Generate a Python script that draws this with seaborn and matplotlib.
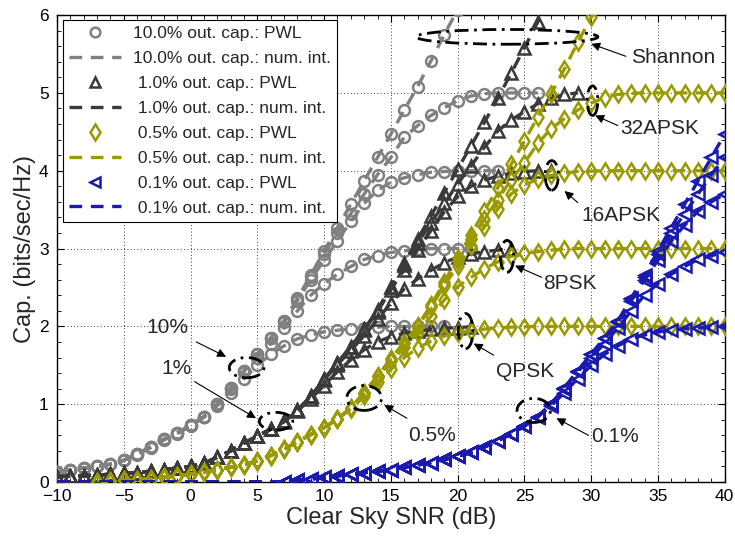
import numpy as np
import pandas as pd
import matplotlib
matplotlib.use("Agg")
import matplotlib.pyplot as plt
import seaborn as sns
from matplotlib.lines import Line2D
from matplotlib.patches import Ellipse
from matplotlib.ticker import MultipleLocator

# ---------------- data ----------------
# 10% outage, SNR starts at -10 dB, 1 dB step
start_10 = -10
sh_10 = [0.13, 0.16, 0.18, 0.20, 0.23, 0.28, 0.36, 0.45, 0.55, 0.63, 0.73, 0.84, 1.00, 1.21, 1.43,
         1.64, 1.85, 2.07, 2.36, 2.66, 2.97, 3.27, 3.57, 3.87, 4.17, 4.47, 4.78, 5.08, 5.41, 5.75, 6.07]
qpsk_10 = [0.13, 0.16, 0.18, 0.20, 0.23, 0.28, 0.35, 0.44, 0.54, 0.62, 0.72, 0.83, 0.98, 1.15, 1.33,
           1.50, 1.64, 1.75, 1.84, 1.89, 1.93, 1.95, 1.97, 1.98, 1.99, 2.0, 2.0, 2.0, 2.0, 2.0]
psk8_10 = [0.13, 0.16, 0.18, 0.20, 0.23, 0.28, 0.36, 0.45, 0.55, 0.63, 0.73, 0.84, 1.00, 1.20, 1.42,
           1.60, 1.78, 1.98, 2.20, 2.40, 2.55, 2.67, 2.77, 2.86, 2.91, 2.95, 2.97, 2.99, 3.0, 3.0, 3.0, 3.0]
apsk16_10 = [0.13, 0.16, 0.18, 0.20, 0.23, 0.28, 0.36, 0.45, 0.55, 0.63, 0.73, 0.84, 1.00, 1.21, 1.43,
             1.64, 1.85, 2.05, 2.33, 2.60, 2.85, 3.10, 3.35, 3.58, 3.75, 3.85, 3.91, 3.95, 3.98, 3.99,
             4.0, 4.0, 4.0, 4.0]
apsk32_10 = [0.13, 0.16, 0.18, 0.20, 0.23, 0.28, 0.36, 0.45, 0.55, 0.63, 0.73, 0.84, 1.00, 1.21, 1.43,
             1.64, 1.85, 2.07, 2.35, 2.64, 2.93, 3.20, 3.45, 3.70, 3.95, 4.17, 4.43, 4.58, 4.71, 4.81,
             4.90, 4.96, 4.99, 5.0, 5.0, 5.0, 5.0]

# 1% outage, SNR starts at -10 dB
start_1 = -10
sh_1 = [0.07, 0.075, 0.08, 0.09, 0.10, 0.11, 0.12, 0.14, 0.16, 0.18, 0.20, 0.24, 0.32, 0.40, 0.50,
        0.59, 0.68, 0.78, 0.92, 1.10, 1.32, 1.53, 1.74, 1.96, 2.21, 2.51, 2.81, 3.12, 3.42, 3.72,
        4.02, 4.32, 4.62, 4.93, 5.25, 5.58, 5.91, 6.23]
qpsk_1 = [0.07, 0.075, 0.08, 0.09, 0.10, 0.11, 0.12, 0.14, 0.16, 0.18, 0.20, 0.24, 0.32, 0.40, 0.50,
          0.59, 0.68, 0.775, 0.91, 1.07, 1.24, 1.42, 1.57, 1.70, 1.80, 1.87, 1.91, 1.94, 1.96, 1.975,
          1.985, 1.995]
psk8_1 = [0.07, 0.075, 0.08, 0.09, 0.10, 0.11, 0.12, 0.14, 0.16, 0.18, 0.20, 0.24, 0.32, 0.40, 0.50,
          0.59, 0.68, 0.78, 0.92, 1.10, 1.31, 1.51, 1.69, 1.88, 2.09, 2.30, 2.48, 2.61, 2.72, 2.82,
          2.89, 2.93, 2.96, 2.98, 2.99]
apsk16_1 = [0.07, 0.075, 0.08, 0.09, 0.10, 0.11, 0.12, 0.14, 0.16, 0.18, 0.20, 0.24, 0.32, 0.40, 0.50,
            0.59, 0.68, 0.78, 0.92, 1.10, 1.32, 1.53, 1.74, 1.95, 2.19, 2.47, 2.73, 2.98, 3.23, 3.47,
            3.67, 3.80, 3.88, 3.93, 3.97, 3.99, 4.0, 4.0]
apsk32_1 = [0.07, 0.075, 0.08, 0.09, 0.10, 0.11, 0.12, 0.14, 0.16, 0.18, 0.20, 0.24, 0.32, 0.40, 0.50,
            0.59, 0.68, 0.78, 0.92, 1.10, 1.32, 1.53, 1.74, 1.96, 2.21, 2.50, 2.79, 3.07, 3.33, 3.58,
            3.83, 4.06, 4.30, 4.51, 4.65, 4.76, 4.86, 4.93, 4.98, 5.0]

# 0.5% outage, SNR starts at -7 dB
start_05 = -7
sh_05 = [0.0, 0.01, 0.02, 0.03, 0.04, 0.06, 0.08, 0.10, 0.13, 0.16, 0.19, 0.22, 0.27, 0.34, 0.42,
         0.52, 0.61, 0.70, 0.81, 0.95, 1.15, 1.36, 1.58, 1.79, 2.00, 2.27, 2.57, 2.88, 3.18, 3.48,
         3.78, 4.08, 4.38, 4.69, 4.99, 5.31, 5.65, 5.97, 6.30]
qpsk_05 = [0.0, 0.01, 0.02, 0.03, 0.04, 0.06, 0.08, 0.10, 0.13, 0.16, 0.19, 0.22, 0.27, 0.34, 0.42,
           0.52, 0.61, 0.70, 0.81, 0.94, 1.10, 1.28, 1.45, 1.60, 1.72, 1.81, 1.875, 1.92, 1.945, 1.965,
           1.98, 1.99, 1.995, 2.0, 2.0, 2.0, 2.0, 2.0, 2.0, 2.0, 2.0, 2.0, 2.0, 2.0, 2.0, 2.0, 2.0, 2.0]
psk8_05 = [0.0, 0.01, 0.02, 0.03, 0.04, 0.06, 0.08, 0.10, 0.13, 0.16, 0.19, 0.22, 0.27, 0.34, 0.42,
           0.52, 0.61, 0.70, 0.81, 0.95, 1.14, 1.35, 1.55, 1.73, 1.92, 2.13, 2.34, 2.51, 2.63, 2.74,
           2.83, 2.90, 2.94, 2.96, 2.98, 2.995, 3.0, 3.0, 3.0, 3.0, 3.0, 3.0, 3.0, 3.0, 3.0, 3.0, 3.0, 3.0]
apsk16_05 = [0.0, 0.01, 0.02, 0.03, 0.04, 0.06, 0.08, 0.10, 0.13, 0.16, 0.19, 0.22, 0.27, 0.34, 0.42,
             0.52, 0.61, 0.70, 0.81, 0.95, 1.15, 1.36, 1.58, 1.79, 1.99, 2.25, 2.52, 2.78, 3.03, 3.28,
             3.51, 3.70, 3.82, 3.89, 3.94, 3.97, 3.99, 3.995, 4.0, 4.0, 4.0, 4.0, 4.0, 4.0, 4.0, 4.0, 4.0, 4.0]
apsk32_05 = [0.0, 0.01, 0.02, 0.03, 0.04, 0.06, 0.08, 0.10, 0.13, 0.16, 0.19, 0.22, 0.27, 0.34, 0.42,
             0.52, 0.61, 0.70, 0.81, 0.95, 1.15, 1.36, 1.58, 1.79, 2.00, 2.27, 2.55, 2.84, 3.12, 3.38,
             3.63, 3.88, 4.10, 4.35, 4.54, 4.67, 4.78, 4.87, 4.94, 4.98, 4.995, 5.0, 5.0, 5.0, 5.0, 5.0, 5.0, 5.0]

# 0.1% outage, PWL markers start at 7 dB; num. int. lines start at -10 dB with zero capacity
start_01 = 7
line_start_01 = -10
zero_01 = [0.0, 0.0, 0.0, 0.0, 0.0, 0.0, 0.0, 0.0, 0.0, 0.0, 0.0, 0.0, 0.0, 0.0, 0.0, 0.0, 0.0]
sh_01 = [0.0, 0.02, 0.04, 0.06, 0.08, 0.10, 0.12, 0.14, 0.16, 0.19, 0.22, 0.25, 0.29, 0.33, 0.38,
         0.45, 0.53, 0.62, 0.72, 0.84, 1.00, 1.21, 1.43, 1.64, 1.85, 2.07, 2.36, 2.66, 2.97, 3.27,
         3.57, 3.87, 4.17, 4.47]
qpsk_01 = [0.0, 0.02, 0.04, 0.06, 0.08, 0.10, 0.12, 0.14, 0.16, 0.19, 0.22, 0.25, 0.29, 0.33, 0.38,
           0.45, 0.53, 0.62, 0.72, 0.84, 0.98, 1.15, 1.33, 1.50, 1.64, 1.75, 1.84, 1.89, 1.93, 1.95,
           1.97, 1.98, 1.99, 2.0]
psk8_01 = [0.0, 0.02, 0.04, 0.06, 0.08, 0.10, 0.12, 0.14, 0.16, 0.19, 0.22, 0.25, 0.29, 0.33, 0.38,
           0.45, 0.53, 0.62, 0.72, 0.84, 1.00, 1.20, 1.42, 1.60, 1.78, 1.98, 2.20, 2.40, 2.55, 2.67,
           2.77, 2.86, 2.91, 2.95]
apsk16_01 = [0.0, 0.02, 0.04, 0.06, 0.08, 0.10, 0.12, 0.14, 0.16, 0.19, 0.22, 0.25, 0.29, 0.33, 0.38,
             0.45, 0.53, 0.62, 0.72, 0.84, 1.00, 1.21, 1.43, 1.64, 1.85, 2.05, 2.33, 2.60, 2.85, 3.10,
             3.30, 3.48, 3.60, 3.70]
apsk32_01 = [0.0, 0.02, 0.04, 0.06, 0.08, 0.10, 0.12, 0.14, 0.16, 0.19, 0.22, 0.25, 0.29, 0.33, 0.38,
             0.45, 0.53, 0.62, 0.72, 0.84, 1.00, 1.21, 1.43, 1.64, 1.85, 2.07, 2.35, 2.64, 2.93, 3.20,
             3.45, 3.70, 3.95, 4.17]

outage_labels = ["10.0%", " 1.0%", " 0.5%", " 0.1%"]
colors = ["#808080", "#3a3a3a", "#9a9a00", "#1a1aaf"]
markers = ["o", "^", "d", "<"]
marker_sizes = [7.8, 8.2, 8.5, 8.2]

xticks = [-10, -5, 0, 5, 10, 15, 20, 25, 30, 35, 40]
yticks = [0, 1, 2, 3, 4, 5, 6]

groups = [
    (start_10, start_10, [], [sh_10, qpsk_10, psk8_10, apsk16_10, apsk32_10]),
    (start_1, start_1, [], [sh_1, qpsk_1, psk8_1, apsk16_1, apsk32_1]),
    (start_05, start_05, [], [sh_05, qpsk_05, psk8_05, apsk16_05, apsk32_05]),
    (start_01, line_start_01, zero_01, [sh_01, qpsk_01, psk8_01, apsk16_01, apsk32_01]),
]

# ---------------- style ----------------
sns.set_style("ticks")
plt.rcParams["font.family"] = ["Liberation Sans", "DejaVu Sans"]
plt.rcParams["axes.unicode_minus"] = True

fig = plt.figure(figsize=(7.35, 5.38), dpi=100)
ax = fig.add_axes([0.0776, 0.104, 0.9084, 0.868])

dash = (0, (3.8, 2.6))
MEW = 1.8
for gi, (mstart, lstart, pad, curves) in enumerate(groups):
    col = colors[gi]
    # PWL markers
    for vals in curves:
        xs = np.arange(mstart, mstart + len(vals))
        df = pd.DataFrame({"snr": xs, "cap": vals})
        sns.lineplot(data=df, x="snr", y="cap", ax=ax, estimator=None, sort=False, legend=False,
                     color=col, linestyle="", marker=markers[gi], markersize=marker_sizes[gi],
                     markerfacecolor="none", markeredgecolor=col, markeredgewidth=MEW, zorder=3)
    # numerical integration (dashed)
    for vals in curves:
        full = list(pad) + list(vals)
        xs = np.arange(lstart, lstart + len(full))
        df = pd.DataFrame({"snr": xs, "cap": full})
        sns.lineplot(data=df, x="snr", y="cap", ax=ax, estimator=None, sort=False, legend=False,
                     color=col, linestyle=dash, linewidth=2.4, zorder=3)

ax.set_xlim(-10, 40)
ax.set_ylim(0, 6)
ax.set_xticks(xticks)
ax.set_yticks(yticks)
ax.xaxis.set_minor_locator(MultipleLocator(1))
ax.yaxis.set_minor_locator(MultipleLocator(0.2))
ax.tick_params(which="both", direction="in", top=True, right=True, labelsize=12.5, colors="k")
ax.tick_params(axis="x", which="major", pad=5)
ax.tick_params(axis="y", which="major", pad=6)
ax.tick_params(which="major", length=5, width=0.8)
ax.tick_params(which="minor", length=3, width=0.6)
ax.grid(True, which="major", linestyle=(0, (1, 3)), color="k", linewidth=0.6)
for sp in ax.spines.values():
    sp.set_linewidth(1.0)
    sp.set_color("k")
ax.set_xlabel("Clear Sky SNR (dB)", fontsize=17, labelpad=2)
ax.set_ylabel("Cap. (bits/sec/Hz)", fontsize=17, labelpad=2)

# ---------------- annotations ----------------
ell_style = dict(fill=False, edgecolor="k", linewidth=2.0, linestyle=(0, (5, 2, 1, 2)), zorder=5)
ellipses = [((23.7, 5.72), 13.6, 0.19), ((30.1, 4.90), 0.8, 0.38), ((27.05, 3.94), 1.0, 0.38),
            ((23.7, 2.90), 1.0, 0.41), ((20.6, 1.94), 1.1, 0.45), ((13.0, 1.08), 2.6, 0.32),
            ((25.7, 0.92), 2.5, 0.31), ((4.2, 1.47), 2.6, 0.26), ((6.4, 0.78), 2.5, 0.23)]
for c, w, h in ellipses:
    ax.add_patch(Ellipse(c, w, h, **ell_style))

notes = [("Shannon", (33.0, 5.45), (32.6, 5.47), (30.0, 5.63)),
         ("32APSK", (32.2, 4.54), (32.0, 4.58), (30.3, 4.71)),
         ("16APSK", (29.3, 3.42), (29.0, 3.59), (28.0, 3.74)),
         ("8PSK", (26.4, 2.55), (26.3, 2.63), (24.3, 2.78)),
         ("QPSK", (22.9, 1.42), (22.7, 1.63), (21.2, 1.78)),
         ("0.5%", (16.3, 0.60), (16.2, 0.82), (14.5, 0.99)),
         ("0.1%", (30.0, 0.58), (29.8, 0.60), (27.4, 0.82)),
         ("10%", (-3.3, 1.98), (0.43, 1.80), (2.66, 1.61)),
         ("1%", (-2.2, 1.46), (0.3, 1.29), (4.9, 0.82))]
for txt, tpos, tail, tip in notes:
    ax.text(tpos[0], tpos[1], txt, fontsize=15, ha="left", va="center", zorder=6)
    ax.annotate("", xy=tip, xytext=tail,
                arrowprops=dict(arrowstyle="-|>", color="k", lw=0.8, mutation_scale=13,
                                shrinkA=0, shrinkB=0), zorder=6)

# ---------------- legend ----------------
handles, labels = [], []
for gi in range(4):
    handles.append(Line2D([], [], linestyle="", marker=markers[gi], markersize=marker_sizes[gi] - 0.8,
                          markerfacecolor="none", markeredgecolor=colors[gi], markeredgewidth=MEW))
    labels.append(outage_labels[gi] + " out. cap.: PWL")
    handles.append(Line2D([], [], linestyle=dash, color=colors[gi], linewidth=2.4))
    labels.append(outage_labels[gi] + " out. cap.: num. int.")
leg = ax.legend(handles, labels, loc="upper left", bbox_to_anchor=(0.009, 0.989), fontsize=12.5,
                frameon=True, fancybox=False, framealpha=1, edgecolor="k", handlelength=3.0,
                handletextpad=0.7, labelspacing=0.56, borderpad=0.35, borderaxespad=0)
leg.get_frame().set_linewidth(0.8)
leg.set_zorder(10)

fig.savefig("out.png", dpi=100)
